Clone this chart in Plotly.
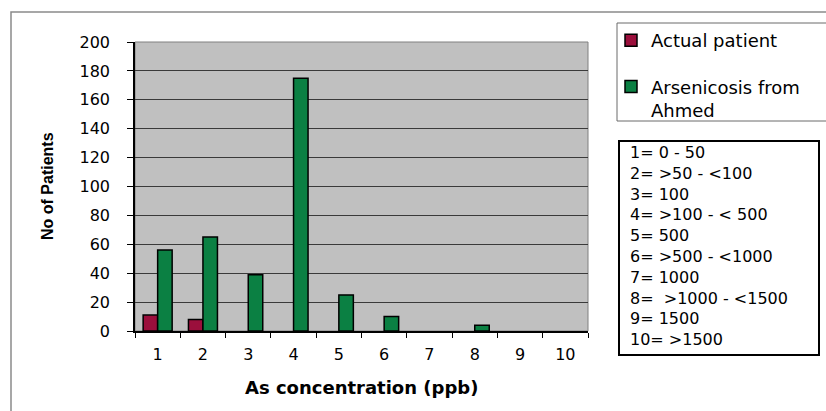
import plotly.graph_objects as go

# Concentration classes (x axis) and patient counts per class
categories = ["1", "2", "3", "4", "5", "6", "7", "8", "9", "10"]
actual_patient = [11, 8, 0, 0, 0, 0, 0, 0, 0, 0]
arsenicosis_ahmed = [56, 65, 39, 175, 25, 10, 0, 4, 0, 0]

class_key = [
    "1= 0 - 50",
    "2= >50 - <100",
    "3= 100",
    "4= >100 - < 500",
    "5= 500",
    "6= >500 - <1000",
    "7= 1000",
    "8=\u00a0\u00a0>1000 - <1500",
    "9= 1500",
    "10= >1500",
]

# Canvas geometry in pixels
FIG_W, FIG_H = 826, 411
M_L, M_R, M_T, M_B = 135, 238, 42, 80
PLOT_W = FIG_W - M_L - M_R
PLOT_H = FIG_H - M_T - M_B


def px_x(px):
    return (px - M_L) / PLOT_W


def px_y(py):
    return (FIG_H - M_B - py) / PLOT_H


def bars(values):
    # empty classes get no bar at all (not even an outline)
    return [v if v else None for v in values]


FONT = "DejaVu Sans"

fig = go.Figure()
fig.add_trace(go.Bar(
    x=categories, y=bars(actual_patient), name="Actual patient",
    legendgroup="a",
    marker=dict(color="#9B0F3C", line=dict(color="black", width=1.5)),
))
fig.add_trace(go.Bar(
    x=categories, y=bars(arsenicosis_ahmed), name="Arsenicosis from<br>Ahmed",
    legendgroup="b",
    marker=dict(color="#0B8043", line=dict(color="black", width=1.5)),
))

fig.update_layout(
    width=FIG_W, height=FIG_H,
    margin=dict(l=M_L, r=M_R, t=M_T, b=M_B),
    paper_bgcolor="white",
    plot_bgcolor="#C0C0C0",
    barmode="group",
    bargap=0.36,
    bargroupgap=0,
    font=dict(family=FONT, color="black"),
    showlegend=True,
    legend=dict(
        x=px_x(611), y=px_y(22), xanchor="left", yanchor="top",
        bgcolor="rgba(0,0,0,0)", borderwidth=0,
        font=dict(family=FONT, size=18, color="black"),
        itemwidth=30, valign="top", tracegroupgap=20,
        traceorder="grouped",
    ),
    xaxis=dict(
        type="category",
        categoryorder="array", categoryarray=categories,
        showgrid=False, showline=True, linecolor="black", linewidth=1.5,
        ticks="outside", ticklen=5, tickcolor="black", tickson="boundaries",
        tickfont=dict(family=FONT, size=16),
        ticklabelstandoff=8,
        zeroline=False,
    ),
    yaxis=dict(
        range=[0, 200], dtick=20,
        showgrid=True, gridcolor="#3a3a3a", gridwidth=1,
        showline=True, linecolor="black", linewidth=1.5,
        ticks="outside", ticklen=6, tickcolor="black",
        tickfont=dict(family=FONT, size=16),
        ticklabelstandoff=14,
        zeroline=False,
    ),
    shapes=[
        # outer chart frame
        dict(type="rect", xref="paper", yref="paper",
             x0=px_x(11), y0=px_y(430), x1=px_x(850), y1=px_y(12),
             line=dict(color="#8a8a8a", width=1.5), layer="below"),
        # plot area frame
        dict(type="rect", xref="paper", yref="paper",
             x0=0, y0=0, x1=1, y1=1,
             line=dict(color="#808080", width=1), layer="below"),
        # legend frame
        dict(type="rect", xref="paper", yref="paper",
             x0=px_x(617), y0=px_y(121), x1=px_x(850), y1=px_y(23),
             line=dict(color="#6a6a6a", width=1)),
        # class key frame
        dict(type="rect", xref="paper", yref="paper",
             x0=px_x(619), y0=px_y(355), x1=px_x(819), y1=px_y(141),
             line=dict(color="black", width=2)),
    ],
    annotations=[
        dict(text="No of Patients", xref="paper", yref="paper",
             x=px_x(47), y=px_y(186), textangle=-90, showarrow=False,
             xanchor="center", yanchor="middle",
             font=dict(family="Liberation Sans", size=16, color="black",
                       weight="bold")),
        dict(text="As concentration (ppb)", xref="paper", yref="paper",
             x=0.5, y=px_y(387), showarrow=False,
             xanchor="center", yanchor="middle",
             font=dict(family=FONT, size=18, color="black", weight="bold")),
        dict(text="<br>".join(class_key), xref="paper", yref="paper",
             x=px_x(628), y=px_y(141), showarrow=False, align="left",
             xanchor="left", yanchor="top",
             font=dict(family=FONT, size=16, color="black")),
    ],
)

fig.write_html("out.html")
